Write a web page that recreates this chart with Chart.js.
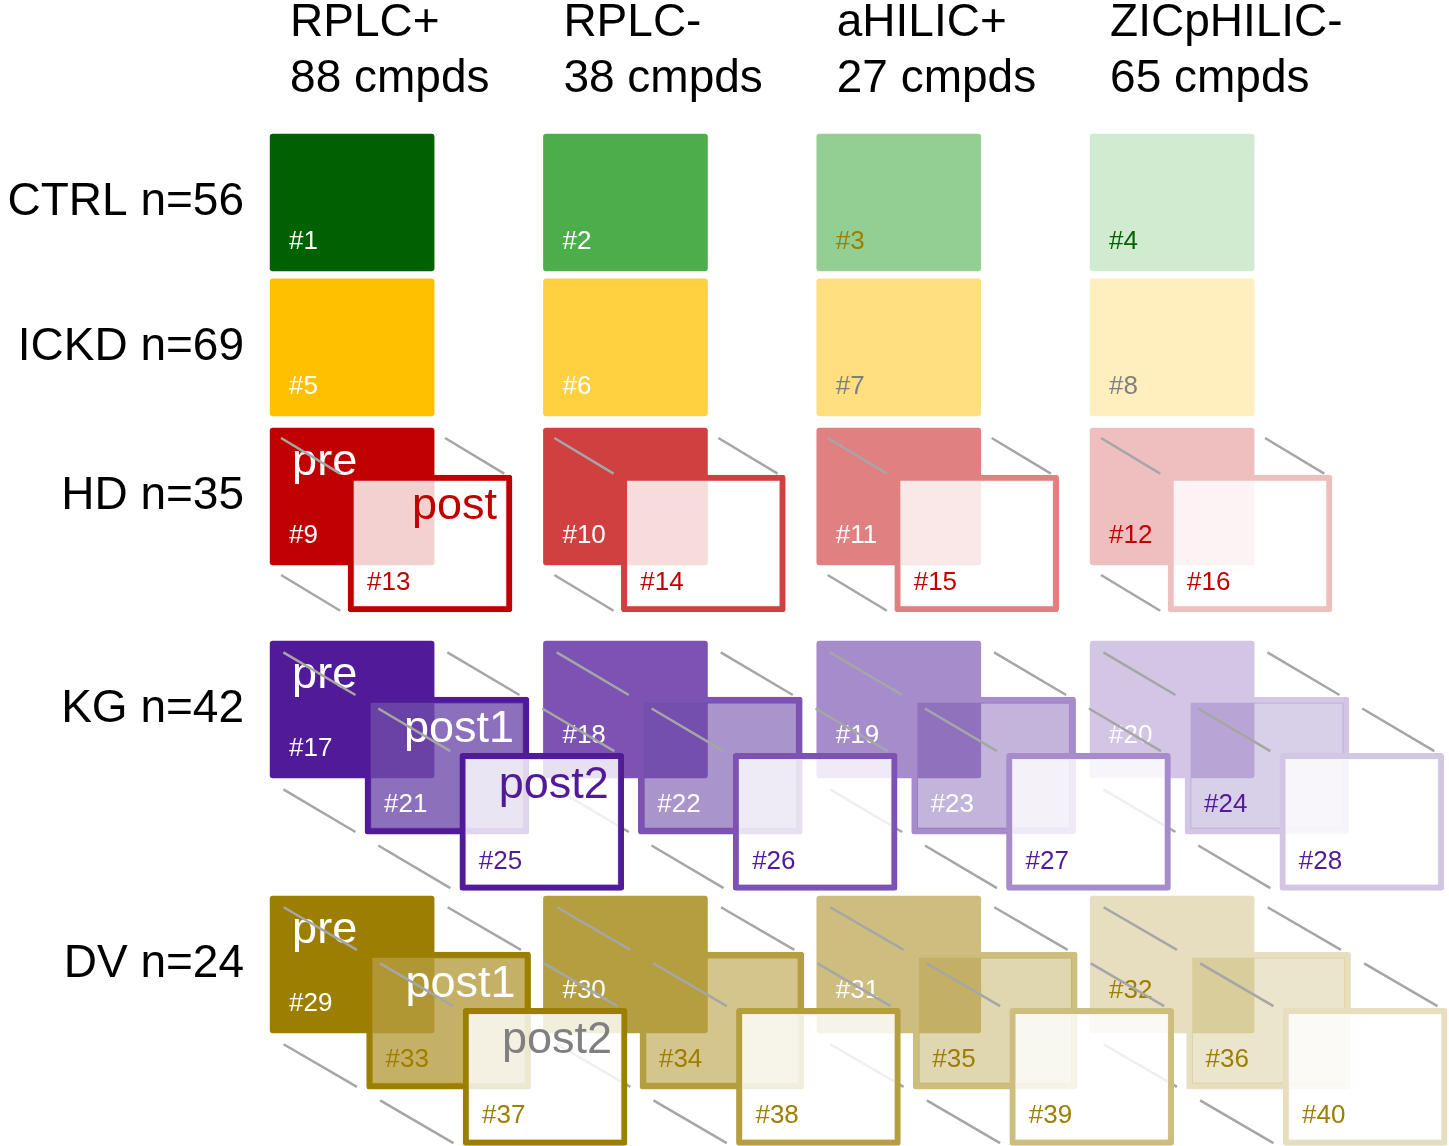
<!DOCTYPE html>
<html>
<head>
<meta charset="utf-8">
<title>Sample sets</title>
<script src="https://cdn.jsdelivr.net/npm/chart.js@4.4.1/dist/chart.umd.min.js"></script>
<style>
  html, body { margin: 0; padding: 0; background: #fff; }
  #wrap { width: 1449px; height: 1146px; }
</style>
</head>
<body>
<div id="wrap"><canvas id="chart"></canvas></div>
<script>
// columns: LC-MS method and number of compounds
const methods = ['RPLC+', 'RPLC-', 'aHILIC+', 'ZICpHILIC-'];
const compounds = [88, 38, 27, 65];

// rows: patient groups
const groups = ['CTRL', 'ICKD', 'HD', 'KG', 'DV'];
const groupN = [56, 69, 35, 42, 24];

// sampling time points per group
const timepoints = [[''], [''], ['pre', 'post'], ['pre', 'post1', 'post2'], ['pre', 'post1', 'post2']];

// sample set numbers: group -> time point -> method
const sampleIds = [
    [[1, 2, 3, 4]],
    [[5, 6, 7, 8]],
    [[9, 10, 11, 12], [13, 14, 15, 16]],
    [[17, 18, 19, 20], [21, 22, 23, 24], [25, 26, 27, 28]],
    [[29, 30, 31, 32], [33, 34, 35, 36], [37, 38, 39, 40]]
];

// ---- layout (x in column units, y in box heights) ----
const BOX_W = 0.6;
const BOX_H = 137;          // px
const INSET = 0.073;        // header text starts a bit right of the box
const rowTop = [0, 1.058, 2.146, 3.701, 5.562];
const stepX = [0, 0, 0.285, 0.347, 0.353];
const stepY = [0, 0, 0.343, 0.41, 0.41];

// ---- styles ----
const FONT = "'Liberation Sans', Arial, sans-serif";
const fills = [
    ['#006100', '#4BAE4B', '#93CF93', '#D1EBD1'],
    ['#FFC000', '#FFD040', '#FFDF80', '#FFEFBF'],
    ['#C00000', '#D04040', '#E08080', '#EFBFBF'],
    ['#501A98', '#7C53B2', '#A78CCB', '#D3C6E5'],
    ['#9C7E00', '#B59E40', '#CDBE80', '#E6DEBF']
];
const midTint = [null, null, null, '112,76,170', '181,158,64'];
const midAlpha = [0.8, 0.6, 0.42, 0.27];
const W = '#ffffff';
const idColors = [
    [[W, W, '#9C7E00', '#006100']],
    [[W, W, '#7F7F7F', '#7F7F7F']],
    [[W, W, W, '#C00000'], ['#C00000', '#C00000', '#C00000', '#C00000']],
    [[W, W, W, W], [W, W, W, '#501A98'], ['#501A98', '#501A98', '#501A98', '#501A98']],
    [[W, W, W, '#9C7E00'], ['#9C7E00', '#9C7E00', '#9C7E00', '#9C7E00'], ['#9C7E00', '#9C7E00', '#9C7E00', '#9C7E00']]
];
const tpColors = [[W], [W], [W, '#C00000'], [W, W, '#501A98'], [W, W, '#808080']];

function boxData(k) {
    const pts = [];
    groups.forEach((g, gi) => {
        if (k >= timepoints[gi].length) return;
        methods.forEach((m, mi) => {
            const x0 = mi - INSET + k * stepX[gi];
            pts.push({
                x: [x0, x0 + BOX_W],
                y: rowTop[gi] + 0.5 + k * stepY[gi],
                g: gi, m: mi, k: k, id: sampleIds[gi][k][mi]
            });
        });
    });
    return pts;
}

// grey connectors between corresponding corners of time point k and k+1
function linkData(k) {
    const pts = [];
    const t0 = 0.14, t1 = 0.9, shift = 0.025;
    groups.forEach((g, gi) => {
        if (k + 1 >= timepoints[gi].length) return;
        methods.forEach((m, mi) => {
            const x0 = mi - INSET + k * stepX[gi];
            const y0 = rowTop[gi] + k * stepY[gi];
            [[0, 0], [BOX_W, 0], [0, 1]].forEach(([cx, cy]) => {
                const ax = x0 + cx, ay = y0 + cy;
                pts.push({ x: ax + t0 * stepX[gi], y: ay + t0 * stepY[gi] + shift });
                pts.push({ x: ax + t1 * stepX[gi], y: ay + t1 * stepY[gi] + shift });
                pts.push({ x: null, y: null });
            });
        });
    });
    return pts;
}

function boxFill(d) {
    if (d.k === 0) return fills[d.g][d.m];
    if (d.k === timepoints[d.g].length - 1) return 'rgba(255,255,255,0.82)';
    return 'rgba(' + midTint[d.g] + ',' + midAlpha[d.m] + ')';
}

function boxDataset(k) {
    return {
        type: 'bar',
        data: boxData(k),
        order: 10 - 2 * k,
        grouped: false,
        barThickness: BOX_H,
        borderSkipped: false,
        borderRadius: 3,
        clip: false,
        backgroundColor: c => boxFill(c.raw),
        borderColor: c => fills[c.raw.g][c.raw.m],
        borderWidth: c => (c.raw.k === 0 ? 0 : 6)
    };
}

function linkDataset(k) {
    return {
        type: 'line',
        data: linkData(k),
        order: 9 - 2 * k,
        borderColor: '#A6A6A6',
        borderWidth: 2.5,
        pointRadius: 0,
        spanGaps: false,
        fill: false,
        clip: false
    };
}

// "#n" and pre/post labels, drawn right after each layer of boxes
const boxLabels = {
    id: 'boxLabels',
    afterDatasetDraw(chart, args) {
        const meta = args.meta;
        if (meta.type !== 'bar') return;
        const ctx = chart.ctx;
        const data = chart.data.datasets[args.index].data;
        ctx.save();
        ctx.textBaseline = 'middle';
        meta.data.forEach((el, i) => {
            const d = data[i];
            const p = el.getProps(['x', 'y', 'base', 'height'], true);
            const left = Math.min(p.x, p.base), right = Math.max(p.x, p.base);
            const top = p.y - p.height / 2, bottom = p.y + p.height / 2;
            // pre labels sit higher where the previous column's post2 box reaches in
            const lifted = d.k === 0 && d.m > 0 && timepoints[d.g].length > 2;
            ctx.font = '26px ' + FONT;
            ctx.textAlign = 'left';
            ctx.fillStyle = idColors[d.g][d.k][d.m];
            ctx.fillText('#' + d.id, left + 19, bottom - (lifted ? 42 : 29));
            const name = timepoints[d.g][d.k];
            if (d.m === 0 && name) {
                ctx.font = '45px ' + FONT;
                ctx.fillStyle = tpColors[d.g][d.k];
                if (d.k === 0) {
                    ctx.textAlign = 'left';
                    ctx.fillText(name, left + 22, top + 35);
                } else {
                    ctx.textAlign = 'right';
                    ctx.fillText(name, right - 15, top + 32);
                }
            }
        });
        ctx.restore();
    }
};

Chart.defaults.font.family = FONT;
Chart.defaults.color = '#000';

new Chart(document.getElementById('chart'), {
    type: 'bar',
    data: {
        datasets: [boxDataset(0), linkDataset(0), boxDataset(1), linkDataset(1), boxDataset(2)]
    },
    options: {
        indexAxis: 'y',
        responsive: true,
        maintainAspectRatio: false,
        animation: false,
        events: [],
        layout: { padding: 0 },
        plugins: {
            legend: { display: false },
            tooltip: { enabled: false }
        },
        scales: {
            x: {
                type: 'linear',
                position: 'top',
                min: -0.11,
                max: 4.24,
                offset: false,
                grid: { display: false, drawTicks: false },
                border: { display: false },
                afterFit: s => { s.height = 120; s.paddingLeft = 0; s.paddingRight = 0; },
                afterBuildTicks: s => { s.ticks = methods.map((m, i) => ({ value: i })); },
                ticks: {
                    align: 'start',
                    padding: 13,
                    autoSkip: false,
                    maxRotation: 0,
                    font: { size: 46, lineHeight: 1.22 },
                    callback: (v, i) => [methods[i], compounds[i] + ' cmpds']
                }
            },
            y: {
                type: 'linear',
                position: 'left',
                reverse: true,
                min: -0.102,
                max: 7.387,
                offset: false,
                grid: { display: false, drawTicks: false },
                border: { display: false },
                afterFit: s => { s.width = 260; s.paddingTop = 0; s.paddingBottom = 0; },
                afterBuildTicks: s => { s.ticks = groups.map((g, i) => ({ value: rowTop[i] + 0.5 })); },
                ticks: {
                    padding: 16,
                    autoSkip: false,
                    font: { size: 46 },
                    callback: (v, i) => groups[i] + ' n=' + groupN[i]
                }
            }
        }
    },
    plugins: [boxLabels]
});
</script>
</body>
</html>
